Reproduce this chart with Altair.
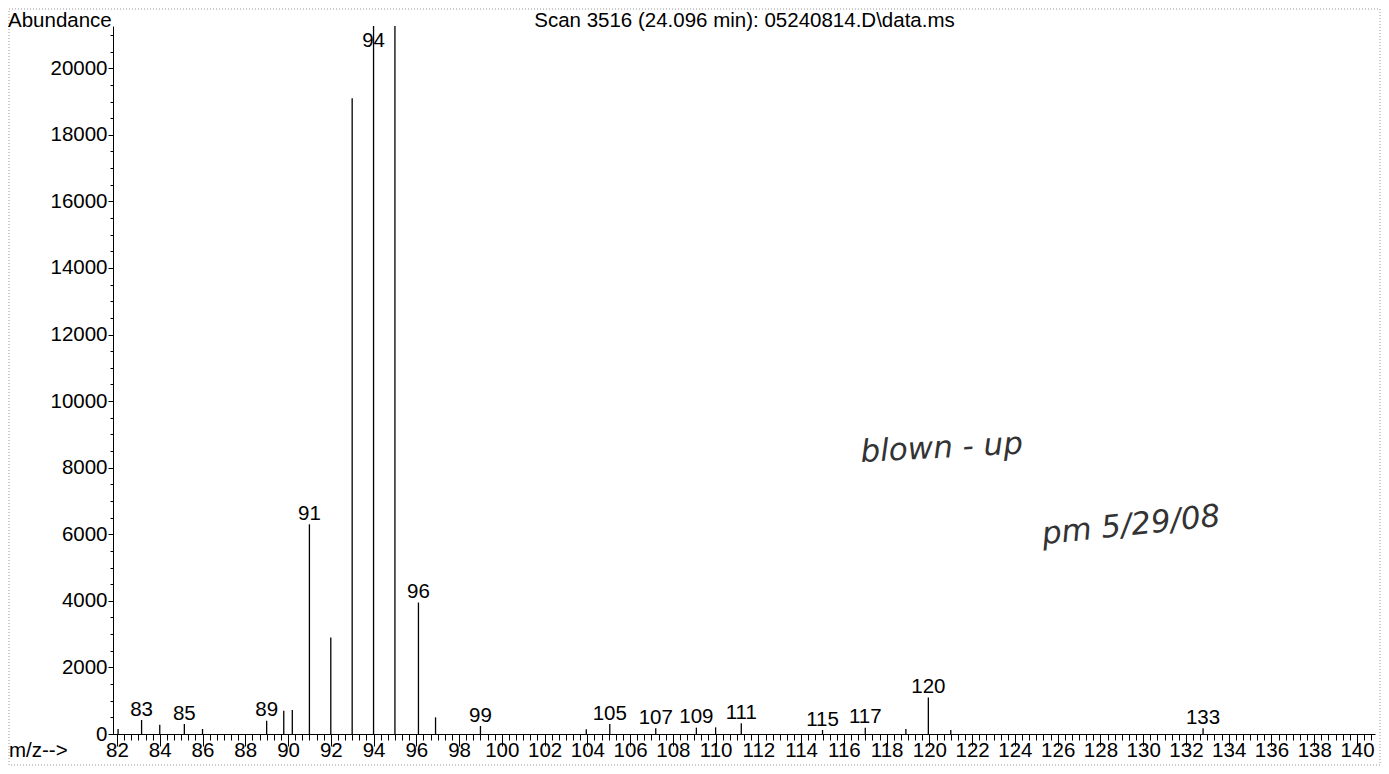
import altair as alt
import pandas as pd

# ---- data ----
mz = [82.05, 83.15, 84.0, 85.15, 86.0, 89.0, 89.8, 90.2, 91.0, 92.0, 93.0, 94.0,
      95.0, 96.1, 96.9, 99.0, 103.95, 105.05, 107.2, 109.1, 110.0, 111.2, 115.0,
      117.0, 118.9, 119.95, 121.0, 132.8]
abundance = [150, 420, 280, 300, 150, 400, 700, 720, 6300, 2900, 19100, 23500,
             22000, 3950, 500, 240, 140, 300, 170, 190, 200, 320, 120,
             190, 150, 1100, 120, 170]
peak_labels = ["", "83", "", "85", "", "89", "", "", "91", "", "", "94",
               "", "96", "", "99", "", "105", "107", "109", "", "111", "115",
               "117", "", "120", "", "133"]

x_major = list(range(82, 141, 2))
x_minor = [82 + k / 3 for k in range(0, 177)]
y_major = list(range(0, 20001, 2000))
y_minor = list(range(0, 21001, 500))

title_text = "Scan 3516 (24.096 min): 05240814.D\\data.ms"
y_title = "Abundance"
x_title = "m/z-->"
note1 = "blown - up"
note2 = "pm 5/29/08"

FONT = "Liberation Sans"
FS = 20.5

df = pd.DataFrame({"mz": mz, "abundance": abundance, "label": peak_labels})
df["base"] = 0

xs = alt.Scale(domain=[81.813, 140.842], nice=False, zero=False)
ys = alt.Scale(domain=[0, 21270], nice=False, zero=True)

peaks = alt.Chart(df).mark_rule(color="black", strokeWidth=1.3, clip=True).encode(
    x=alt.X("mz:Q", scale=xs,
            axis=alt.Axis(values=x_major, tickSize=12, labelPadding=-5.5,
                          labelFont=FONT, labelFontSize=FS, labelColor="black",
                          domainColor="black", tickColor="black", grid=False,
                          title=None, labelOverlap=False, labelFlush=False,
                          format="d", orient="bottom")),
    y=alt.Y("abundance:Q", scale=ys,
            axis=alt.Axis(values=y_major, tickSize=5, labelPadding=1,
                          labelFont=FONT, labelFontSize=FS, labelColor="black",
                          domainColor="black", tickColor="black", grid=False,
                          title=None, labelOverlap=False, labelFlush=False,
                          format="d", orient="left")),
    y2="base:Q",
)

labels = alt.Chart(df).transform_filter("datum.label != ''").transform_calculate(
    ly="min(datum.abundance, 20490)"
).mark_text(baseline="alphabetic", dy=-4.5, font=FONT, fontSize=FS, color="black").encode(
    x=alt.X("mz:Q", scale=xs, axis=None),
    y=alt.Y("ly:Q", scale=ys, axis=None),
    text="label:N",
)

minor = alt.Chart(df).mark_point(opacity=0, clip=True).encode(
    x=alt.X("mz:Q", scale=xs,
            axis=alt.Axis(values=x_minor, tickSize=6, labels=False, domain=False,
                          grid=False, title=None, orient="bottom", tickColor="black")),
    y=alt.Y("abundance:Q", scale=ys,
            axis=alt.Axis(values=y_minor, tickSize=3, labels=False, domain=False,
                          grid=False, title=None, orient="left", tickColor="black")),
)

one = pd.DataFrame({"t": [title_text], "a": [y_title], "m": [x_title],
                    "n1": [note1], "n2": [note2]})

title = alt.Chart(one).mark_text(align="center", baseline="alphabetic", font=FONT,
                                 fontSize=FS, color="black").encode(
    x=alt.value(631.5), y=alt.value(0.5), text="t:N")
ytitle = alt.Chart(one).mark_text(align="left", baseline="alphabetic", font=FONT,
                                  fontSize=FS, color="black").encode(
    x=alt.value(-105), y=alt.value(0.5), text="a:N")
xtitle = alt.Chart(one).mark_text(align="left", baseline="alphabetic", font=FONT,
                                  fontSize=FS, color="black").encode(
    x=alt.value(-104), y=alt.value(731), text="m:N")

n1 = alt.Chart(one).mark_text(align="center", baseline="alphabetic", font="DejaVu Sans",
                              fontStyle="italic", fontSize=31, color="#333333",
                              angle=357).encode(
    x=alt.X(datum=120.6, scale=xs, axis=None),
    y=alt.Y(datum=8300, scale=ys, axis=None), text="n1:N")
n2 = alt.Chart(one).mark_text(align="center", baseline="alphabetic", font="DejaVu Sans",
                              fontStyle="italic", fontSize=31, color="#333333",
                              angle=354).encode(
    x=alt.X(datum=129.48, scale=xs, axis=None),
    y=alt.Y(datum=5979, scale=ys, axis=None), text="n2:N")

border = alt.Chart(one).mark_rect(filled=False, stroke="#999999", strokeWidth=1,
                                  strokeDash=[1, 2]).encode(
    x=alt.value(-104), x2=alt.value(1267), y=alt.value(-17), y2=alt.value(739))

chart = alt.layer(border, minor, peaks, labels, n1, n2, title, ytitle, xtitle).resolve_scale(
    x="independent", y="independent"
).properties(
    width=1262, height=708,
    padding={"left": 105, "top": 18, "right": 6, "bottom": 32},
    autosize=alt.AutoSizeParams(type="none"),
    background="white",
).configure_view(stroke=None)

chart.save("out.html", embed_options={"renderer": "svg", "actions": False})
